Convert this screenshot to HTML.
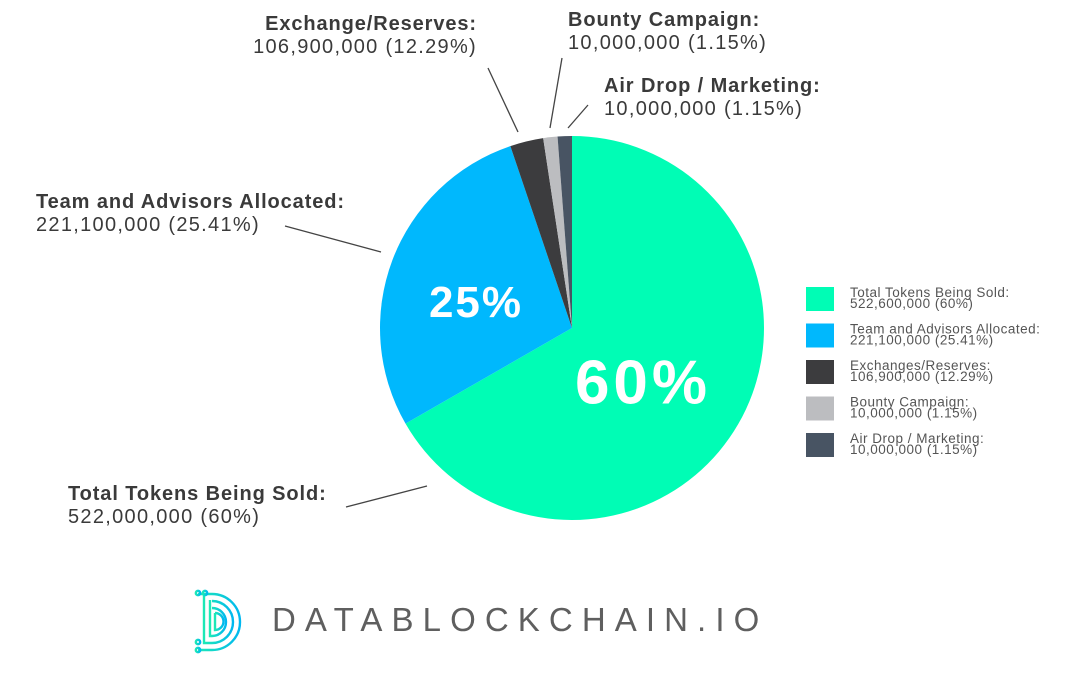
<!DOCTYPE html>
<html><head><meta charset="utf-8"><style>
body{margin:0;width:1079px;height:692px;background:#fff;overflow:hidden;font-family:"Liberation Sans",sans-serif}
svg{position:absolute;left:0;top:0}
</style></head><body>
<svg width="1079" height="692" id="chart">
<g id="slices"></g>
<g id="labels"></g>
<g id="legend"></g>
<g>
 <defs><linearGradient id="lg" x1="0" x2="1"><stop offset="0" stop-color="#1de9b6"/><stop offset="1" stop-color="#00b8f0"/></linearGradient></defs>
 <g fill="none" stroke="url(#lg)" stroke-width="2.4">
  <path d="M198 594 H212 A28 28 0 0 1 212 650 H198"/>
  <path d="M204 594 V643 H212 A21 21 0 0 0 212 601"/>
  <path d="M210 600 V636 H212 A14 14 0 0 0 212 608"/>
  <path d="M215 613 V630 A8.5 8.5 0 0 0 215 613"/>
  <circle cx="198" cy="593" r="2.2"/><circle cx="205" cy="593" r="2.2"/><circle cx="198" cy="642" r="2.2"/><circle cx="198" cy="650" r="2.2"/>
 </g>
 <text x="272" y="631" font-size="33" fill="#5f5f5f" letter-spacing="9.1">DATABLOCKCHAIN.IO</text>
</g>
</svg>
<script>
const categories=["Total Tokens Being Sold","Team and Advisors Allocated","Exchanges/Reserves","Bounty Campaign","Air Drop / Marketing"];
const drawnShares=[66.7,28.1,2.8,1.2,1.2];
const legendValues=["522,600,000 (60%)","221,100,000 (25.41%)","106,900,000 (12.29%)","10,000,000 (1.15%)","10,000,000 (1.15%)"];
const calloutTitles=["Total Tokens Being Sold:","Team and Advisors Allocated:","Exchange/Reserves:","Bounty Campaign:","Air Drop / Marketing:"];
const calloutValues=["522,000,000 (60%)","221,100,000 (25.41%)","106,900,000 (12.29%)","10,000,000 (1.15%)","10,000,000 (1.15%)"];
const innerLabels=["60%","25%","","",""];
const colors=["#00fdb5","#00b8fd","#3c3c3e","#bcbdc0","#485463"];
const NS="http://www.w3.org/2000/svg";
const cx=572,cy=328,r=192;
function mk(t,a,p){const e=document.createElementNS(NS,t);for(const k in a)e.setAttribute(k,a[k]);p.appendChild(e);return e;}
function pt(frac,rad){const a=frac*2*Math.PI;return [cx+rad*Math.sin(a),cy-rad*Math.cos(a)];}
const tot=drawnShares.reduce((a,b)=>a+b,0);
let acc=0;
const sg=document.getElementById('slices');
drawnShares.forEach((v,i)=>{
 const f0=acc/tot,f1=(acc+v)/tot;acc+=v;
 const [x0,y0]=pt(f0,r),[x1,y1]=pt(f1,r);
 const p=mk('path',{d:`M${cx},${cy}L${x0},${y0}A${r},${r} 0 ${f1-f0>0.5?1:0} 1 ${x1},${y1}Z`,fill:colors[i]},sg);
 
 
});
const il=[[643,381,62,4],[476,301,44,2]];
innerLabels.forEach((t,i)=>{if(!t)return;
 const e=mk('text',{x:il[i][0],y:il[i][1]+il[i][2]*0.36,'font-size':il[i][2],'font-weight':'bold',fill:'#fff','text-anchor':'middle','letter-spacing':il[i][3]},sg);e.textContent=t;
 
 
});
const lg=document.getElementById('labels');
const cpos=[[68,500,'start',[346,507,427,486]],[36,208,'start',[285,226,381,252]],[477,30,'end',[488,68,518,132]],[568,26,'start',[562,58,550,128]],[604,92,'start',[588,105,568,128]]];
cpos.forEach((c,i)=>{
 const l=mk('line',{x1:c[3][0],y1:c[3][1],x2:c[3][2],y2:c[3][3],stroke:'#444','stroke-width':1.3},lg);
 
 
 const t=mk('text',{x:c[0],y:c[1],'font-size':20,'font-weight':'bold',fill:'#3a3a3a','text-anchor':c[2],'letter-spacing':0.9},lg);t.textContent=calloutTitles[i];
 
 
 const v=mk('text',{x:c[0],y:c[1]+23,'font-size':20,fill:'#3a3a3a','text-anchor':c[2],'letter-spacing':1.3},lg);v.textContent=calloutValues[i];
 
 
});
const leg=document.getElementById('legend');
categories.forEach((c,i)=>{
 const y=287+i*36.5;
 const g=mk('g',{},leg);
 
 
 mk('rect',{x:806,y:y,width:28,height:24,fill:colors[i]},g);
 const t1=mk('text',{x:850,y:y+10,'font-size':13.5,fill:'#555','letter-spacing':0.5},g);t1.textContent=c+":";
 const t2=mk('text',{x:850,y:y+21,'font-size':13.5,fill:'#555','letter-spacing':0.5},g);t2.textContent=legendValues[i];
});
</script>
</body></html>
